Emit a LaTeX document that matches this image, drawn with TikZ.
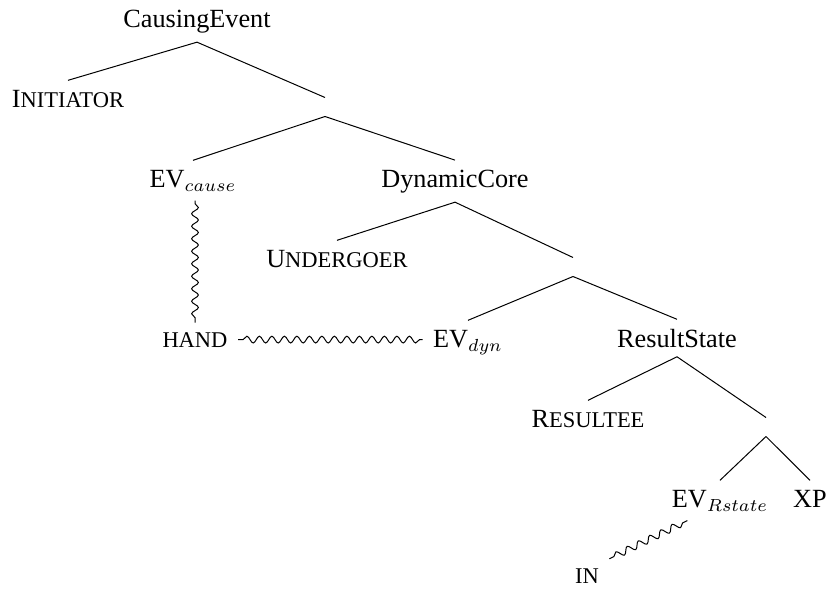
\documentclass[tikz,border=0pt]{standalone}
\usepackage{fontspec}
\setmainfont{Liberation Serif}
\usepackage{tikz}
\usetikzlibrary{calc,decorations.pathmorphing}
\newcommand{\sm}[1]{{\fontsize{9}{10.5}\selectfont #1}}
\tikzset{
  lbl/.style={inner xsep=4pt, inner ysep=3.6pt, anchor=base},
  gap/.style={inner sep=3.6pt, minimum size=0pt},
  wave/.style={decorate, decoration={snake, amplitude=1.35pt, segment length=5pt, pre length=2pt}}
}

\begin{document}
\begin{tikzpicture}[x=0.4pt, y=-0.4pt, font=\fontsize{10.5}{12.6}\selectfont]
        \useasboundingbox (0,0) rectangle (827,588);
        %Labels
        \node[lbl] (ce) at (197,27) {CausingEvent};
        \node[lbl] (ini) at (68,107) {I\sm{NITIATOR}};
        \node[gap] (n1) at (325,107) {};
        \node[lbl] (evc) at (193,187) {EV$_{cause}$};
        \node[lbl] (dc) at (455,187) {DynamicCore};
        \node[lbl] (und) at (337,267) {U\sm{NDERGOER}};
        \node[gap] (n2) at (573,267) {};
        \node[lbl] (hand) at (195,347) {\sm{HAND}};
        \node[lbl] (evd) at (468,347) {EV$_{dyn}$};
        \node[lbl] (rs) at (677,347) {ResultState};
        \node[lbl] (res) at (588,427) {R\sm{ESULTEE}};
        \node[gap] (n3) at (766,427) {};
        \node[lbl] (evr) at (720,507) {EV$_{Rstate}$};
        \node[lbl] (xp) at (810,507) {XP};
        \node[lbl] (in) at (587,583) {\sm{IN}};
        %Branches
        \draw (ce.south) -- (ini.north);
        \draw (ce.south) -- (n1.north);
        \draw (n1.south) -- (evc.north);
        \draw (n1.south) -- (dc.north);
        \draw (dc.south) -- (und.north);
        \draw (dc.south) -- (n2.north);
        \draw (n2.south) -- (evd.north);
        \draw (n2.south) -- (rs.north);
        \draw (rs.south) -- (res.north);
        \draw (rs.south) -- (n3.north);
        \draw (n3.south) -- (evr.north);
        \draw (n3.south) -- (xp.north);
        %Wavy links
        \draw[wave] (hand.north) -- (hand.north |- evc.south);
        \draw[wave] (hand.east) -- (hand.east -| evd.west);
        \draw[wave] (in.north east) -- ([xshift=10.4pt]evr.south west);
      \end{tikzpicture}
\end{document}
